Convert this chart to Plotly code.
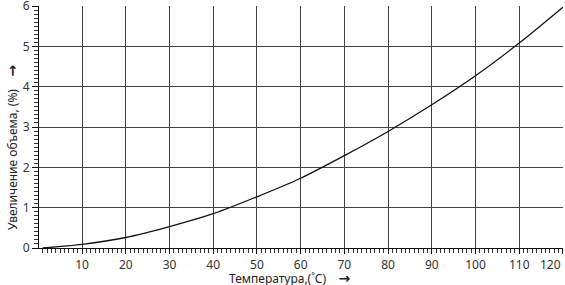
import plotly.graph_objects as go

temperature = [1, 10, 20, 30, 40, 50, 60, 70, 80, 90, 100, 110, 120]
expansion = [0.0, 0.09, 0.26, 0.53, 0.85, 1.27, 1.73, 2.29, 2.89, 3.55, 4.27, 5.08, 5.97]
x_ticks = [10, 20, 30, 40, 50, 60, 70, 80, 90, 100, 110, 120]
y_ticks = [0, 1, 2, 3, 4, 5, 6]
arrow = "<span style='font-family:DejaVu Sans;font-size:14px'><b>→</b></span>"
x_title = "Температура,(˚C)\u00a0\u00a0\u00a0\u00a0" + arrow
y_title = "Увеличение объема, (%)\u00a0\u00a0\u00a0\u00a0" + arrow

font_family = "Noto Sans"
fig = go.Figure()
fig.add_trace(go.Scatter(
    x=temperature, y=expansion, mode="lines",
    line=dict(color="#111111", width=1.3, shape="spline", smoothing=0.8),
    showlegend=False, hoverinfo="skip"))

fig.update_layout(
    width=565, height=285,
    margin=dict(l=39, r=2, t=6, b=37, autoexpand=False),
    paper_bgcolor="white", plot_bgcolor="white",
    font=dict(family=font_family, size=12, color="#333333"),
)
# last label drawn separately (it sits left of its gridline in the reference)
x_text = [str(v) for v in x_ticks[:-1]] + [""]
fig.update_xaxes(
    range=[0.15, 120.02], tickmode="array", tickvals=x_ticks, ticktext=x_text,
    showgrid=True, gridcolor="#444444", gridwidth=1.2,
    showline=True, linecolor="#111111", linewidth=1.2,
    ticks="outside", ticklen=5, tickcolor="#111111", tickwidth=1,
    minor=dict(tickmode="linear", dtick=1, tick0=0, ticks="outside", ticklen=4,
               tickcolor="#333333", tickwidth=1, showgrid=False),
    zeroline=False, tickfont=dict(size=12, color="#333333"),
    ticklabeloverflow="allow", automargin=False,
)
fig.update_yaxes(
    range=[0, 6.0001], tickmode="linear", tick0=0, dtick=1,
    showgrid=True, gridcolor="#444444", gridwidth=1.2,
    showline=True, linecolor="#111111", linewidth=1.2,
    ticks="outside", ticklen=6, tickcolor="#111111", tickwidth=1,
    minor=dict(tickmode="linear", dtick=0.1, tick0=0, ticks="outside", ticklen=4,
               tickcolor="#333333", tickwidth=1, showgrid=False),
    zeroline=False, tickfont=dict(size=12, color="#333333"),
    ticklabeloverflow="allow", automargin=False,
)
fig.add_annotation(
    text=str(x_ticks[-1]), xref="x", yref="paper", x=x_ticks[-1], y=0, yshift=-16,
    xanchor="right", yanchor="middle", showarrow=False,
    font=dict(family=font_family, size=12, color="#333333"))
fig.add_annotation(
    text=y_title, xref="paper", yref="paper", x=0, y=0.417, xshift=-27,
    xanchor="center", yanchor="middle", textangle=-90, showarrow=False,
    font=dict(family=font_family, size=12, color="#222222"))
fig.add_annotation(
    text=x_title, xref="paper", yref="paper", x=0.479, y=0, yshift=-30,
    xanchor="center", yanchor="middle", showarrow=False,
    font=dict(family=font_family, size=12, color="#222222"))

fig.write_html("out.html")
